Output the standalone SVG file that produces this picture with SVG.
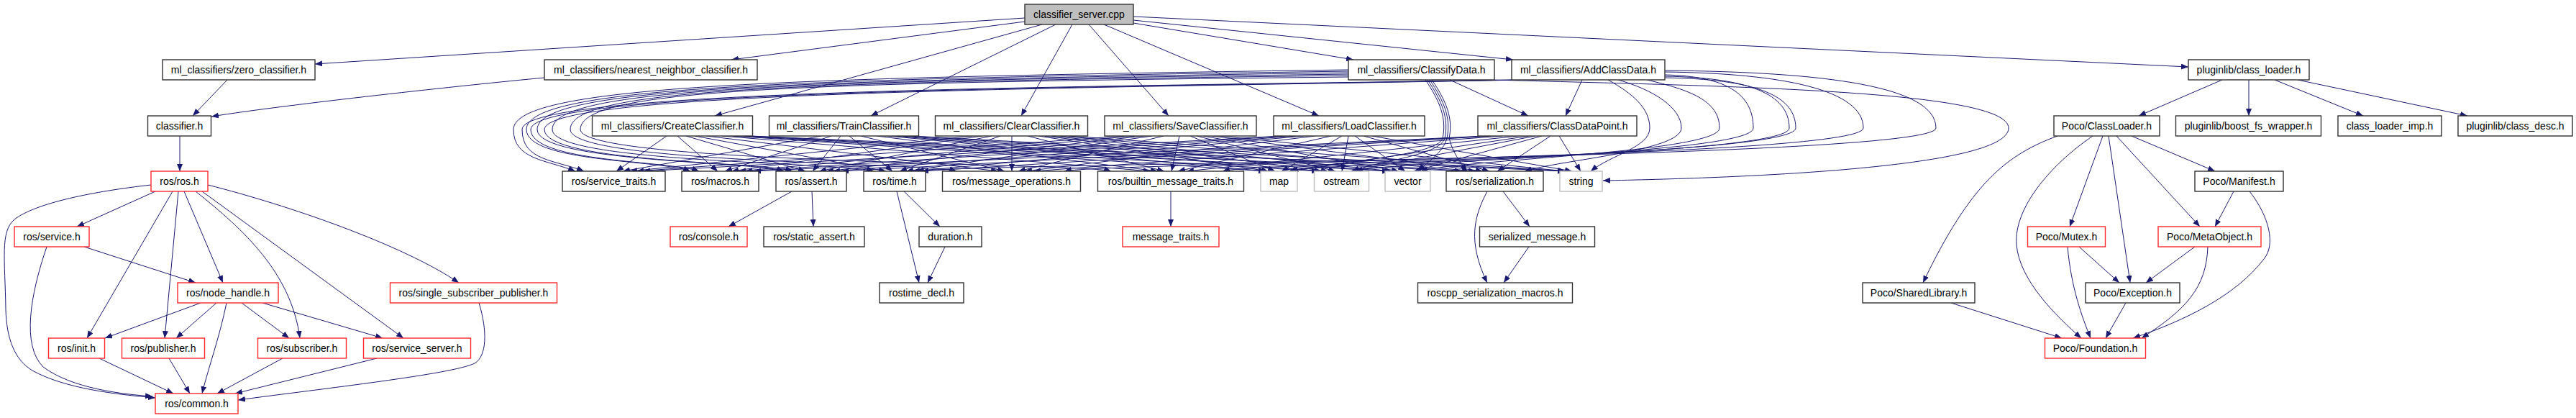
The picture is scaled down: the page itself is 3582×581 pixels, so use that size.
<svg xmlns="http://www.w3.org/2000/svg" width="3582" height="581" viewBox="0 0 3582 581">
<style>
.e{fill:none;stroke:#191970;stroke-width:1;marker-end:url(#ah)}
.nd rect{fill:#fff;stroke:#333;stroke-width:1.4}
.nd.red rect{stroke:#ff2a2a}
.nd.sys rect{stroke:#bfbfbf}
.nd.root rect{fill:#bfbfbf}
text{font-family:"Liberation Sans",Arial,sans-serif;font-size:14px;text-anchor:middle;fill:#000}
</style>
<defs>
<marker id="ah" markerWidth="11" markerHeight="9" refX="10" refY="4" orient="auto" markerUnits="userSpaceOnUse"><path d="M0,0 L10,4 L0,8 z" fill="#191970"/></marker>
</defs>
<rect width="3582" height="581" fill="#fff"/>
<g id="connectors">
<!-- root -->
<path class="e" d="M1425,25 L438,89"/>
<path class="e" d="M1425,30 L1017,83"/>
<path class="e" d="M1449,34 L994,161"/>
<path class="e" d="M1468,34 L1211,161"/>
<path class="e" d="M1491,34 L1420,161"/>
<path class="e" d="M1514,34 L1625,161"/>
<path class="e" d="M1535,34 L1834,161"/>
<path class="e" d="M1576,32 L1882,83"/>
<path class="e" d="M1576,28 L2104,83"/>
<path class="e" d="M1576,23 L3043,93"/>
<!-- classifier chain -->
<path class="e" d="M316,111 L268,161"/>
<path class="e" d="M757,108 C650,118 400,145 294,162"/>
<path class="e" d="M250,189 L250,238"/>
<!-- ros.h -->
<path class="e" d="M210,257 C130,266 50,282 20,305 C0,322 7,360 8,430 C9,470 20,500 45,515 C90,540 160,548 216,553"/>
<path class="e" d="M216,266 L107,315"/>
<path class="e" d="M240,266 L121,470"/>
<path class="e" d="M248,266 L229,470"/>
<path class="e" d="M256,266 L310,393"/>
<path class="e" d="M272,266 C340,320 405,380 417,470"/>
<path class="e" d="M281,266 L561,470"/>
<path class="e" d="M289,257 C400,285 560,340 638,393"/>
<path class="e" d="M117,343 L272,393"/>
<path class="e" d="M65,343 C42,410 30,480 60,510 C100,540 170,548 212,551"/>
<path class="e" d="M279,421 L146,470"/>
<path class="e" d="M301,421 L245,470"/>
<path class="e" d="M315,421 C305,470 290,510 281,547"/>
<path class="e" d="M336,421 L402,470"/>
<path class="e" d="M365,421 L532,470"/>
<path class="e" d="M138,498 L241,547"/>
<path class="e" d="M235,498 L264,547"/>
<path class="e" d="M393,498 L302,547"/>
<path class="e" d="M524,498 L327,547"/>
<path class="e" d="M666,421 C678,460 677,495 660,505 C630,520 450,540 331,556"/>
<!-- misc ros -->
<path class="e" d="M1101,266 L1013,315"/>
<path class="e" d="M1129,266 L1131,315"/>
<path class="e" d="M1257,266 L1307,315"/>
<path class="e" d="M1247,266 L1278,393"/>
<path class="e" d="M1314,343 L1290,393"/>
<path class="e" d="M1628,266 L1628,315"/>
<path class="e" d="M2068,266 C2050,300 2040,335 2068,393"/>
<path class="e" d="M2090,266 L2127,315"/>
<path class="e" d="M2126,343 L2091,393"/>
<!-- pluginlib / Poco -->
<path class="e" d="M3090,111 L2974,161"/>
<path class="e" d="M3127,111 L3127,161"/>
<path class="e" d="M3163,111 L3286,161"/>
<path class="e" d="M3195,111 L3431,161"/>
<path class="e" d="M2861,189 C2790,215 2740,255 2674,393"/>
<path class="e" d="M2910,189 C2850,230 2800,290 2804,340 C2808,390 2860,440 2894,470"/>
<path class="e" d="M2924,189 L2878,315"/>
<path class="e" d="M2932,189 L2962,393"/>
<path class="e" d="M2943,189 L3059,315"/>
<path class="e" d="M2964,189 L3080,238"/>
<path class="e" d="M3106,266 L3080,315"/>
<path class="e" d="M3128,266 C3155,300 3165,340 3148,360 C3110,410 3040,445 2966,470"/>
<path class="e" d="M3052,343 L2984,393"/>
<path class="e" d="M3070,343 C3068,400 3040,430 2978,470"/>
<path class="e" d="M2891,343 L2947,393"/>
<path class="e" d="M2875,343 C2880,400 2895,440 2907,470"/>
<path class="e" d="M2956,421 L2928,470"/>
<path class="e" d="M2713,421 L2867,470"/>
<!-- ClassifyData / AddClassData -> ClassDataPoint -->
<path class="e" d="M2016,111 L2125,161"/>
<path class="e" d="M2200,111 L2177,161"/>
<!-- left loops -->
<path class="e" d="M1875,97 C1100,108 714,118 714,180 C714,222 760,222 800,238"/>
<path class="e" d="M2110,111 C1500,121 726,124 726,180 C726,224 772,222 812,238"/>
<path class="e" d="M1875,99 C1100,110 732,120 732,180 C732,226 920,222 960,238"/>
<path class="e" d="M2112,111 C1500,122 738,125 738,180 C738,226 932,223 972,238"/>
<path class="e" d="M1875,101 C1100,112 747,121 747,180 C747,226 1050,224 1090,238"/>
<path class="e" d="M2114,111 C1500,123 757,126 757,180 C757,227 1062,224 1102,238"/>
<path class="e" d="M1875,103 C1100,113 768,122 768,180 C768,227 1175,225 1215,238"/>
<path class="e" d="M1875,105 C1100,114 793,123 793,180 C793,228 1290,225 1330,238"/>
<path class="e" d="M1875,107 C1100,115 807,124 807,180 C807,228 1505,226 1545,238"/>
<!-- right loops -->
<path class="e" d="M2236,111 C2270,130 2294,150 2294,178 C2294,205 2240,215 2212,238"/>
<path class="e" d="M2250,111 C2300,125 2338,150 2338,178 C2338,210 2170,222 2120,238"/>
<path class="e" d="M2290,111 C2350,125 2391,140 2391,178 C2391,212 2025,222 1975,238"/>
<path class="e" d="M2315,104 C2400,106 2438,130 2438,178 C2438,214 1935,223 1885,238"/>
<path class="e" d="M2315,106 C2430,108 2488,130 2488,178 C2488,216 1845,224 1795,238"/>
<path class="e" d="M2315,108 C2440,110 2497,132 2497,178 C2497,218 1750,225 1700,238"/>
<path class="e" d="M2315,100 C2480,102 2591,125 2591,178 C2591,220 1530,226 1480,238"/>
<path class="e" d="M2315,98 C2540,100 2692,120 2692,178 C2692,222 1325,227 1275,238"/>
<path class="e" d="M2077,111 C2400,120 2793,125 2793,178 C2793,235 2400,248 2229,251"/>
<!-- gap -->
<path class="e" d="M1982,111 C2002,140 2012,165 2006,192 C2000,218 1840,226 1792,238"/>
<path class="e" d="M1985,111 C2005,140 2015,165 2009,192 C2003,216 1915,224 1880,238"/>
<path class="e" d="M1988,111 C2008,140 2018,165 2012,192 C2007,212 1985,225 1972,238"/>
<path class="e" d="M1991,111 C2011,140 2021,165 2015,192 C2020,212 2030,225 2040,238"/>
<!-- CreateClassifier -->
<path class="e" d="M927,189 L857,238"/>
<path class="e" d="M942,189 L998,238"/>
<path class="e" d="M954,189 L1120,238"/>
<path class="e" d="M966,189 L1232,238"/>
<path class="e" d="M982,189 L1388,238"/>
<path class="e" d="M1004,189 L1600,238"/>
<path class="e" d="M1019,189 L1760,238"/>
<path class="e" d="M1028,189 L1834,238"/>
<path class="e" d="M1037,189 L1932,238"/>
<path class="e" d="M1040,189 L2033,238"/>
<path class="e" d="M1044,189 L2176,238"/>
<!-- TrainClassifier -->
<path class="e" d="M1142,189 L866,238"/>
<path class="e" d="M1156,189 L1008,238"/>
<path class="e" d="M1169,189 L1130,238"/>
<path class="e" d="M1181,189 L1241,238"/>
<path class="e" d="M1197,189 L1397,238"/>
<path class="e" d="M1219,189 L1610,238"/>
<path class="e" d="M1234,189 L1760,238"/>
<path class="e" d="M1243,189 L1838,238"/>
<path class="e" d="M1252,189 L1932,238"/>
<path class="e" d="M1264,189 L2043,238"/>
<path class="e" d="M1268,189 L2176,238"/>
<!-- ClearClassifier -->
<path class="e" d="M1352,189 L876,238"/>
<path class="e" d="M1366,189 L1017,238"/>
<path class="e" d="M1379,189 L1139,238"/>
<path class="e" d="M1391,189 L1251,238"/>
<path class="e" d="M1407,189 L1407,238"/>
<path class="e" d="M1429,189 L1619,238"/>
<path class="e" d="M1444,189 L1764,238"/>
<path class="e" d="M1453,189 L1847,238"/>
<path class="e" d="M1462,189 L1936,238"/>
<path class="e" d="M1474,189 L2052,238"/>
<path class="e" d="M1486,189 L2176,238"/>
<!-- SaveClassifier -->
<path class="e" d="M1563,189 L885,238"/>
<path class="e" d="M1578,189 L1027,238"/>
<path class="e" d="M1590,189 L1149,238"/>
<path class="e" d="M1602,189 L1260,238"/>
<path class="e" d="M1618,189 L1416,238"/>
<path class="e" d="M1640,189 L1629,238"/>
<path class="e" d="M1655,189 L1773,238"/>
<path class="e" d="M1664,189 L1857,238"/>
<path class="e" d="M1673,189 L1945,238"/>
<path class="e" d="M1685,189 L2062,238"/>
<path class="e" d="M1697,189 L2177,238"/>
<!-- LoadClassifier -->
<path class="e" d="M1781,189 L894,238"/>
<path class="e" d="M1789,189 L1036,238"/>
<path class="e" d="M1801,189 L1158,238"/>
<path class="e" d="M1813,189 L1269,238"/>
<path class="e" d="M1829,189 L1425,238"/>
<path class="e" d="M1851,189 L1638,238"/>
<path class="e" d="M1866,189 L1782,238"/>
<path class="e" d="M1875,189 L1866,238"/>
<path class="e" d="M1884,189 L1954,238"/>
<path class="e" d="M1896,189 L2071,238"/>
<path class="e" d="M1908,189 L2186,238"/>
<!-- ClassDataPoint -->
<path class="e" d="M2065,189 L1048,238"/>
<path class="e" d="M2068,189 L1170,238"/>
<path class="e" d="M2073,189 L1281,238"/>
<path class="e" d="M2089,189 L1437,238"/>
<path class="e" d="M2111,189 L1650,238"/>
<path class="e" d="M2126,189 L1794,238"/>
<path class="e" d="M2135,189 L1878,238"/>
<path class="e" d="M2144,189 L1966,238"/>
<path class="e" d="M2156,189 L2082,238"/>
<path class="e" d="M2168,189 L2198,238"/>
</g>
<g id="n_root" class="nd root"><rect x="1425" y="6" width="151" height="28"/><text x="1500.5" y="25">classifier_server.cpp</text></g>
<g id="n_zero" class="nd"><rect x="226" y="83" width="212" height="28"/><text x="332" y="102">ml_classifiers/zero_classifier.h</text></g>
<g id="n_nn" class="nd"><rect x="757" y="83" width="296" height="28"/><text x="905" y="102">ml_classifiers/nearest_neighbor_classifier.h</text></g>
<g id="n_cd" class="nd"><rect x="1875" y="83" width="203" height="28"/><text x="1976.5" y="102">ml_classifiers/ClassifyData.h</text></g>
<g id="n_ad" class="nd"><rect x="2102" y="83" width="213" height="28"/><text x="2208.5" y="102">ml_classifiers/AddClassData.h</text></g>
<g id="n_pcl" class="nd"><rect x="3043" y="83" width="168" height="28"/><text x="3127" y="102">pluginlib/class_loader.h</text></g>
<g id="n_classifier" class="nd"><rect x="205.5" y="161" width="88" height="28"/><text x="249.5" y="180">classifier.h</text></g>
<g id="n_create" class="nd"><rect x="823.5" y="161" width="223" height="28"/><text x="935" y="180">ml_classifiers/CreateClassifier.h</text></g>
<g id="n_train" class="nd"><rect x="1069.5" y="161" width="208" height="28"/><text x="1173.5" y="180">ml_classifiers/TrainClassifier.h</text></g>
<g id="n_clear" class="nd"><rect x="1300.5" y="161" width="212" height="28"/><text x="1406.5" y="180">ml_classifiers/ClearClassifier.h</text></g>
<g id="n_save" class="nd"><rect x="1536" y="161" width="211" height="28"/><text x="1641.5" y="180">ml_classifiers/SaveClassifier.h</text></g>
<g id="n_load" class="nd"><rect x="1771" y="161" width="210" height="28"/><text x="1876" y="180">ml_classifiers/LoadClassifier.h</text></g>
<g id="n_cdp" class="nd"><rect x="2055" y="161" width="221" height="28"/><text x="2165.5" y="180">ml_classifiers/ClassDataPoint.h</text></g>
<g id="n_pococl" class="nd"><rect x="2856" y="161" width="147" height="28"/><text x="2929.5" y="180">Poco/ClassLoader.h</text></g>
<g id="n_bfs" class="nd"><rect x="3025.5" y="161" width="202" height="28"/><text x="3126.5" y="180">pluginlib/boost_fs_wrapper.h</text></g>
<g id="n_climp" class="nd"><rect x="3251" y="161" width="144" height="28"/><text x="3323" y="180">class_loader_imp.h</text></g>
<g id="n_cdesc" class="nd"><rect x="3418" y="161" width="159" height="28"/><text x="3497.5" y="180">pluginlib/class_desc.h</text></g>
<g id="n_ros" class="nd red"><rect x="210" y="238" width="79" height="28"/><text x="249.5" y="257">ros/ros.h</text></g>
<g id="n_st" class="nd"><rect x="782" y="238" width="143" height="28"/><text x="853.5" y="257">ros/service_traits.h</text></g>
<g id="n_macros" class="nd"><rect x="948" y="238" width="107" height="28"/><text x="1001.5" y="257">ros/macros.h</text></g>
<g id="n_assert" class="nd"><rect x="1079" y="238" width="98" height="28"/><text x="1128" y="257">ros/assert.h</text></g>
<g id="n_time" class="nd"><rect x="1201" y="238" width="86" height="28"/><text x="1244" y="257">ros/time.h</text></g>
<g id="n_msgops" class="nd"><rect x="1310.5" y="238" width="192" height="28"/><text x="1406.5" y="257">ros/message_operations.h</text></g>
<g id="n_builtin" class="nd"><rect x="1526.5" y="238" width="203" height="28"/><text x="1628" y="257">ros/builtin_message_traits.h</text></g>
<g id="n_map" class="nd sys"><rect x="1753" y="238" width="51" height="28"/><text x="1778.5" y="257">map</text></g>
<g id="n_ostream" class="nd sys"><rect x="1827.5" y="238" width="76" height="28"/><text x="1865.5" y="257">ostream</text></g>
<g id="n_vector" class="nd sys"><rect x="1926" y="238" width="63" height="28"/><text x="1957.5" y="257">vector</text></g>
<g id="n_ser" class="nd"><rect x="2011" y="238" width="135" height="28"/><text x="2078.5" y="257">ros/serialization.h</text></g>
<g id="n_string" class="nd sys"><rect x="2169" y="238" width="59" height="28"/><text x="2198.5" y="257">string</text></g>
<g id="n_manifest" class="nd"><rect x="3052" y="238" width="123" height="28"/><text x="3113.5" y="257">Poco/Manifest.h</text></g>
<g id="n_service" class="nd red"><rect x="20" y="315" width="104" height="28"/><text x="72" y="334">ros/service.h</text></g>
<g id="n_console" class="nd red"><rect x="932" y="315" width="107" height="28"/><text x="985.5" y="334">ros/console.h</text></g>
<g id="n_sassert" class="nd"><rect x="1062" y="315" width="140" height="28"/><text x="1132" y="334">ros/static_assert.h</text></g>
<g id="n_duration" class="nd"><rect x="1278" y="315" width="87" height="28"/><text x="1321.5" y="334">duration.h</text></g>
<g id="n_mtraits" class="nd red"><rect x="1561" y="315" width="134" height="28"/><text x="1628" y="334">message_traits.h</text></g>
<g id="n_smsg" class="nd"><rect x="2057.5" y="315" width="160" height="28"/><text x="2137.5" y="334">serialized_message.h</text></g>
<g id="n_mutex" class="nd red"><rect x="2819.5" y="315" width="108" height="28"/><text x="2873.5" y="334">Poco/Mutex.h</text></g>
<g id="n_meta" class="nd red"><rect x="3001" y="315" width="143" height="28"/><text x="3072.5" y="334">Poco/MetaObject.h</text></g>
<g id="n_nh" class="nd red"><rect x="247" y="393" width="140" height="28"/><text x="317" y="412">ros/node_handle.h</text></g>
<g id="n_ssp" class="nd red"><rect x="542.5" y="393" width="232" height="28"/><text x="658.5" y="412">ros/single_subscriber_publisher.h</text></g>
<g id="n_rtdecl" class="nd"><rect x="1223" y="393" width="117" height="28"/><text x="1281.5" y="412">rostime_decl.h</text></g>
<g id="n_rsm" class="nd"><rect x="1971.5" y="393" width="215" height="28"/><text x="2079" y="412">roscpp_serialization_macros.h</text></g>
<g id="n_shlib" class="nd"><rect x="2590" y="393" width="156" height="28"/><text x="2668" y="412">Poco/SharedLibrary.h</text></g>
<g id="n_exc" class="nd"><rect x="2900" y="393" width="131" height="28"/><text x="2965.5" y="412">Poco/Exception.h</text></g>
<g id="n_init" class="nd red"><rect x="67.5" y="470" width="78" height="28"/><text x="106.5" y="489">ros/init.h</text></g>
<g id="n_pub" class="nd red"><rect x="169.5" y="470" width="115" height="28"/><text x="227" y="489">ros/publisher.h</text></g>
<g id="n_sub" class="nd red"><rect x="358.5" y="470" width="123" height="28"/><text x="420" y="489">ros/subscriber.h</text></g>
<g id="n_ss" class="nd red"><rect x="505.5" y="470" width="149" height="28"/><text x="580" y="489">ros/service_server.h</text></g>
<g id="n_found" class="nd red"><rect x="2843.5" y="470" width="140" height="28"/><text x="2913.5" y="489">Poco/Foundation.h</text></g>
<g id="n_common" class="nd red"><rect x="216" y="547" width="115" height="28"/><text x="273.5" y="566">ros/common.h</text></g>
</svg>
